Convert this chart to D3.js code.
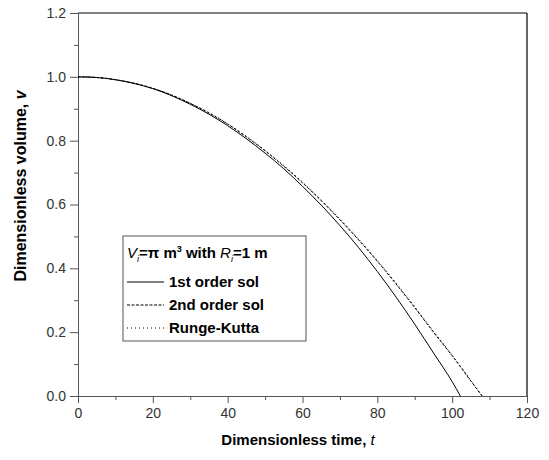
<!DOCTYPE html>
<html>
<head>
<meta charset="utf-8">
<script src="https://cdn.jsdelivr.net/npm/d3@7"></script>
<style>
  body { margin: 0; background: #fff; }
  svg { display: block; }
  .tick text { font-family: "Liberation Sans Narrow", "Arial Narrow", sans-serif; font-size: 14px; fill: #333; }
  .axis path, .axis line { stroke: #555; }
  .title { font-family: "Liberation Sans", Arial, sans-serif; font-weight: bold; fill: #000; }
  .legend text { font-family: "Liberation Sans", Arial, sans-serif; font-size: 15px; font-weight: bold; fill: #000; }
</style>
</head>
<body>
<script>
// data
const time1 = [0, 5, 10, 15, 20, 25, 30, 35, 40, 45, 50, 55, 60, 65, 70, 75, 80, 85, 90, 95, 100, 102.2];
const firstOrder = [1.000, 0.998, 0.991, 0.979, 0.963, 0.941, 0.914, 0.883, 0.847, 0.806, 0.761, 0.712, 0.657, 0.598, 0.534, 0.465, 0.390, 0.310, 0.225, 0.135, 0.045, 0.0];
const time2 = [0, 5, 10, 15, 20, 25, 30, 35, 40, 45, 50, 55, 60, 65, 70, 75, 80, 85, 90, 95, 100, 105, 108];
const secondOrder = [1.000, 0.998, 0.991, 0.980, 0.964, 0.943, 0.917, 0.887, 0.852, 0.812, 0.768, 0.720, 0.668, 0.612, 0.552, 0.489, 0.422, 0.351, 0.277, 0.200, 0.126, 0.047, 0.0];
const rungeKutta = [1.000, 0.998, 0.991, 0.980, 0.964, 0.943, 0.917, 0.888, 0.853, 0.813, 0.770, 0.722, 0.670, 0.614, 0.555, 0.492, 0.425, 0.354, 0.280, 0.203, 0.128, 0.049, 0.0];
const xTicks = [0, 20, 40, 60, 80, 100, 120];
const yTicks = [0.0, 0.2, 0.4, 0.6, 0.8, 1.0, 1.2];
const legendLabels = ['1st order sol', '2nd order sol', 'Runge-Kutta'];

let width = 549;
let height = 460;
let padLeft = 78, padRight = 527, padTop = 13, padBottom = 396;

let svg = d3.select('body').append('svg')
   .attr('width', width)
   .attr('height', height);

let xScale = d3.scaleLinear().domain([0, 120]).range([padLeft, padRight]);
let yScale = d3.scaleLinear().domain([0, 1.2]).range([padBottom, padTop]);

// frame (top + right)
svg.append('line').attr('x1', padLeft).attr('x2', padRight).attr('y1', padTop).attr('y2', padTop)
   .attr('stroke', '#000').attr('stroke-width', 1.2);
svg.append('line').attr('x1', padRight).attr('x2', padRight).attr('y1', padTop).attr('y2', padBottom)
   .attr('stroke', '#000').attr('stroke-width', 1.2);

// minor ticks
let xMinor = d3.range(10, 120, 20);
let yMinor = d3.range(0.1, 1.2, 0.2);
svg.append('g').attr('class', 'axis')
   .attr('transform', 'translate(0,' + padBottom + ')')
   .call(d3.axisBottom(xScale).tickValues(xMinor).tickFormat('').tickSize(4).tickSizeOuter(0));
svg.append('g').attr('class', 'axis')
   .attr('transform', 'translate(' + padLeft + ',0)')
   .call(d3.axisLeft(yScale).tickValues(yMinor).tickFormat('').tickSize(4).tickSizeOuter(0));

// major axes
svg.append('g').attr('class', 'axis')
   .attr('transform', 'translate(0,' + padBottom + ')')
   .call(d3.axisBottom(xScale).tickValues(xTicks).tickFormat(d3.format('d')).tickSize(7).tickSizeOuter(0).tickPadding(5));
svg.append('g').attr('class', 'axis')
   .attr('transform', 'translate(' + padLeft + ',0)')
   .call(d3.axisLeft(yScale).tickValues(yTicks).tickFormat(d3.format('.1f')).tickSize(8).tickSizeOuter(0).tickPadding(4));

// curves
let line = d3.line().curve(d3.curveMonotoneX)
   .x(d => xScale(d[0]))
   .y(d => yScale(d[1]));
let series = [
   {pts: time1.map((t, i) => [t, firstOrder[i]]), dash: null},
   {pts: time2.map((t, i) => [t, secondOrder[i]]), dash: '3,1.5'},
   {pts: time2.map((t, i) => [t, rungeKutta[i]]), dash: '1,3'}
];
svg.selectAll('.curve')
   .data(series)
   .enter()
   .append('path')
   .attr('class', 'curve')
   .attr('d', d => line(d.pts))
   .attr('fill', 'none')
   .attr('stroke', '#000')
   .attr('stroke-width', 1)
   .attr('stroke-dasharray', d => d.dash);

// axis titles
let xt = svg.append('text').attr('class', 'title')
   .attr('font-size', '15px')
   .attr('x', 298).attr('y', 445).attr('text-anchor', 'middle');
xt.append('tspan').text('Dimensionless time, ');
xt.append('tspan').attr('font-style', 'italic').attr('font-weight', 'normal').text('t');

let yt = svg.append('text').attr('class', 'title')
   .attr('font-size', '16px')
   .attr('transform', 'translate(26,186) rotate(-90)')
   .attr('text-anchor', 'middle');
yt.append('tspan').text('Dimensionless volume, ');
yt.append('tspan').attr('font-style', 'italic').text('v');

// legend
let legend = svg.append('g').attr('class', 'legend');
legend.append('rect')
   .attr('x', 123).attr('y', 236).attr('width', 183).attr('height', 105)
   .attr('fill', '#fff').attr('stroke', '#555').attr('stroke-width', 1);

let lt = legend.append('text').attr('x', 127).attr('y', 258).attr('font-size', '14px');
lt.append('tspan').attr('font-style', 'italic').attr('font-weight', 'normal').text('V');
lt.append('tspan').attr('font-style', 'italic').attr('font-weight', 'normal').attr('font-size', '9px').attr('dy', 4).text('i');
lt.append('tspan').attr('dy', -4).text('=π m');
lt.append('tspan').attr('font-size', '9px').attr('dy', -6).text('3');
lt.append('tspan').attr('dy', 6).text(' with ');
lt.append('tspan').attr('font-style', 'italic').attr('font-weight', 'normal').text('R');
lt.append('tspan').attr('font-style', 'italic').attr('font-weight', 'normal').attr('font-size', '9px').attr('dy', 4).text('i');
lt.append('tspan').attr('dy', -4).text('=1 m');

let rows = legend.selectAll('.row')
   .data(legendLabels)
   .enter()
   .append('g')
   .attr('class', 'row')
   .attr('transform', (d, i) => 'translate(0,' + (282 + i * 23) + ')');
rows.append('line')
   .attr('x1', 127).attr('x2', 164).attr('y1', 0).attr('y2', 0)
   .attr('stroke', '#000').attr('stroke-width', 1)
   .attr('stroke-dasharray', (d, i) => series[i].dash);
rows.append('text')
   .attr('x', 169).attr('y', 5)
   .text(d => d);
</script>
</body>
</html>
